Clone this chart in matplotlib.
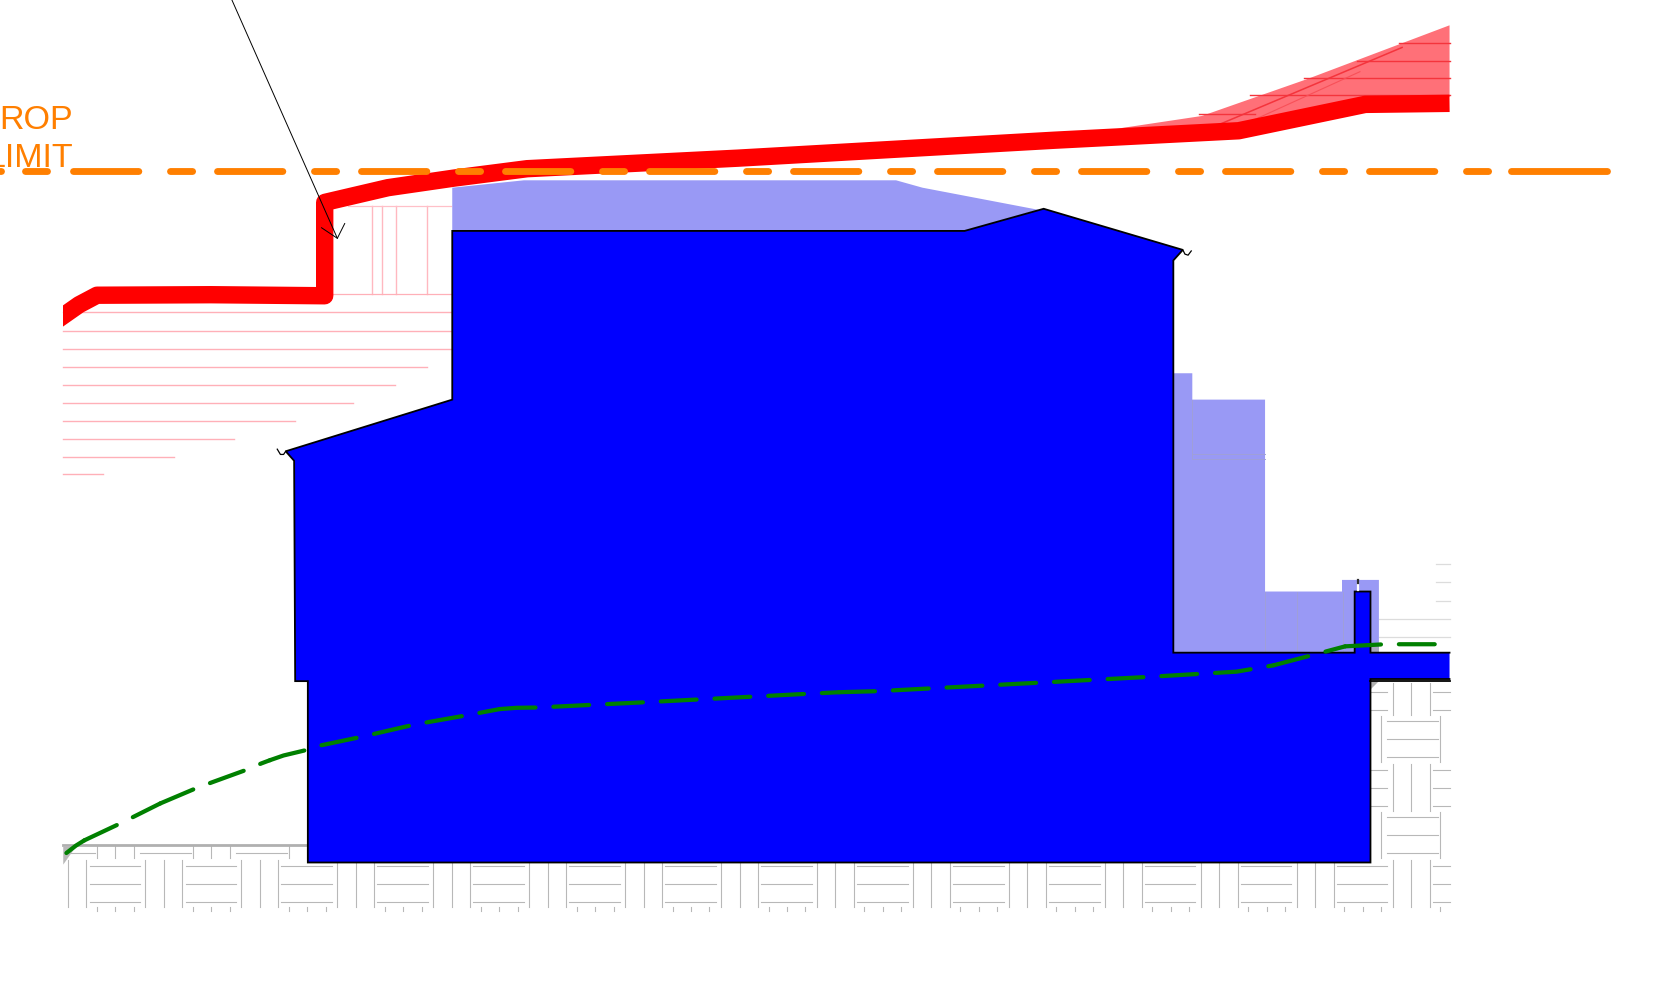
import matplotlib
matplotlib.use('Agg')
import matplotlib.pyplot as plt
from matplotlib.patches import Rectangle

plt.rcParams['font.family'] = ['Liberation Sans', 'DejaVu Sans']

# all outlines, x left to right and y top to bottom
blue_x = [429, 915, 990, 1122, 1113, 1113, 1285, 1285, 1300, 1300, 1375, 1375, 1300, 1300, 292, 292, 280, 279, 271, 429]
blue_y = [219, 219, 198, 237, 247, 619, 619, 561, 561, 619, 619, 644, 644, 818, 818, 646, 646, 437, 428, 379]

roof_x = [429, 497, 850, 875, 985, 915, 429]
roof_y = [178, 171, 171, 178, 199, 219, 219]

rear_x = [1113, 1131, 1131, 1200, 1200, 1273, 1273, 1308, 1308, 1300, 1113]
rear_y = [354, 354, 379, 379, 561, 561, 550, 550, 610, 619, 619]

red_x = [45, 75, 92, 200, 308, 308, 368, 430, 500, 700, 1000, 1175, 1295, 1375]
red_y = [310, 289, 280, 279.5, 280.5, 192, 178, 169, 160, 150, 133, 124, 99, 98]

fan_x = [1060, 1140, 1240, 1375, 1375, 1295, 1175]
fan_y = [122, 110, 75, 24, 92, 95, 120]

green_x = [63, 72, 80, 114, 128, 152, 185, 201, 234, 248, 256, 269, 292, 304, 342, 394, 445, 458, 474, 490, 510, 612,
           766, 796, 833, 1089, 1173, 1208, 1246, 1276, 1314, 1365]
green_y = [809, 802, 797, 781, 774, 762, 748, 742, 730, 724, 721, 716.5, 711, 707, 699, 687, 678, 675.5, 672.5, 671.3,
           671, 666, 658, 656.5, 655.5, 642, 637, 631, 621, 613, 611, 611]
green_restart = [63, 80, 152, 256, 474, 796, 1208, 1276]

pink_y = [296, 314, 331, 348, 365, 382, 399, 416, 433, 450]
pink_end = [428, 428, 428, 405, 375, 335, 280, 222, 165, 98]
pink_vert = [353, 362, 376, 405]

fan_lines_y = [41, 58, 74, 90, 108]
fan_lines_start = [1327, 1287, 1237, 1186, 1137]
fan_lines_end = [1375, 1375, 1375, 1375, 1190]

arrow_x = [305, 320, 327]
arrow_y = [216, 226, 212]

limit_y = 162

fig = plt.figure(figsize=(16.53, 10.08), dpi=100)
ax = fig.add_axes([0, 0, 1, 1])
ax.set_xlim(0, 1568)
ax.set_ylim(956, 0)
ax.axis('off')

px = 0.759  # one unit of the axes in points

# brick hatch under the ground
gray = '#b8b8b8'


def hatch_v(x, y0, y1):
    if x < 62 or x > 1375:
        return
    ymin = 802 if x < 1300 else 648
    if y1 <= ymin:
        return
    ax.plot([x, x], [max(y0, ymin), y1], color=gray, lw=0.8, zorder=1)


def hatch_h(x0, x1, y):
    x0, x1 = max(x0, 62), min(x1, 1375)
    if x1 <= x0:
        return
    if y < (802 if x1 < 1300 else 648):
        return
    ax.plot([x0, x1], [y, y], color=gray, lw=0.8, zorder=1)


for k in range(-1, 16):
    for top, first, hstart in [(816, 47, 85), (725, 47, 85), (634, 47, 85), (770, 92, 133), (679, 92, 133)]:
        for d in [0, 17.5, 35]:
            hatch_v(first + 91 * k + d, top, top + 44)
        for d in [5, 22, 39]:
            hatch_h(hstart + 91 * k, hstart + 91 * k + 48, top + d)
    for d in [0, 17.5, 35]:
        hatch_v(92 + 91 * k + d, 860, 864)

ax.plot([60, 292], [801, 801], color='#b0b0b0', lw=2, zorder=1)
ax.fill([60, 72, 60], [803, 803, 820], color='#b8b8b8', lw=0, zorder=1)
ax.fill([1300, 1308, 1300], [646, 646, 654], color='#b0b0b0', lw=0, zorder=1)

for y in [535, 552, 570, 587, 604]:
    ax.plot([1362 if y < 580 else 1308, 1375], [y, y], color='#dcdcdc', lw=0.9, zorder=1)

# pink lines under the red one
for y, end in zip(pink_y, pink_end):
    ax.plot([60, end], [y, y], color='#ffb0b8', lw=1, zorder=1)
for x in pink_vert:
    ax.plot([x, x], [195, 279], color='#ffb8c0', lw=1, zorder=1)
ax.plot([330, 428], [195, 195], color='#ffc0c8', lw=0.9, zorder=1)
ax.plot([315, 428], [279, 279], color='#ffb0b8', lw=0.9, zorder=1)

# building
ax.fill(roof_x, roof_y, color='#9999f5', lw=0, zorder=2)
ax.fill(rear_x, rear_y, color='#9999f5', lw=0, zorder=2)
ax.fill([1300, 1308, 1308, 1300], [610, 610, 619, 619], color='#a8a8c0', lw=0, zorder=2)
for x in [1200, 1230, 1274]:
    ax.plot([x, x], [561, 619], color='#a0a0d8', lw=0.7, zorder=2)
ax.plot([1131, 1131], [379, 435], color='#a0a0d8', lw=0.7, zorder=2)
ax.plot([1131, 1200], [431, 431], color='#a0a0d8', lw=0.7, zorder=2)
ax.plot([1131, 1200], [435, 435], color='#a0a0d8', lw=0.7, zorder=2)
ax.fill(blue_x, blue_y, color='#0000ff', lw=0, zorder=3)
# outline stays open on the right where the band runs out
ax.plot(blue_x[11:] + blue_x[:11], blue_y[11:] + blue_y[:11], color='black', lw=1.3, zorder=3,
        solid_joinstyle='miter')
ax.plot([1300, 1375], [646, 646], color='black', lw=1.3, zorder=3)

# notch on top of the post
ax.plot([1288, 1288], [553, 560], color='white', lw=1.6, zorder=3)
ax.plot([1288, 1288], [550, 553], color='#303030', lw=1.6, zorder=3)

# little hooks at both eaves
ax.plot([1122, 1124, 1127, 1130], [237, 241, 242, 238], color='black', lw=0.9, zorder=3)
ax.plot([271, 269, 266, 263], [428, 431, 431, 426], color='black', lw=0.9, zorder=3)

# red limit
ax.fill(fan_x, fan_y, color='#ff7078', lw=0, zorder=4)
for y, start, end in zip(fan_lines_y, fan_lines_start, fan_lines_end):
    ax.plot([start, end], [y, y], color='#f4343c', lw=1, zorder=4)
ax.plot([1140, 1330], [125, 45], color='#f4343c', lw=1.1, zorder=4)
ax.plot([1180, 1290], [118, 68], color='#f85058', lw=0.8, zorder=4)
red_line, = ax.plot(red_x, red_y, color='#ff0000', lw=16.5 * px, solid_capstyle='butt', solid_joinstyle='round',
                    zorder=5)
red_line.set_clip_path(Rectangle((60, 0), 1315, 956, transform=ax.transData))

# orange limit line
lw_orange = 6.5
ax.plot([69.5, 1426], [limit_y, limit_y], color='#ff7f00', lw=lw_orange * px,
        linestyle=(0, (62 / lw_orange, 30 / lw_orange, 21 / lw_orange, 23.6 / lw_orange)),
        dash_capstyle='round', zorder=6)
ax.plot([1433, 1524], [limit_y, limit_y], color='#ff7f00', lw=lw_orange * px, solid_capstyle='round', zorder=6)
# the two bits left of the dashed part
ax.plot([23.5, 44.5], [limit_y, limit_y], color='#ff7f00', lw=lw_orange * px, solid_capstyle='round', zorder=6)
ax.plot([0, 1], [limit_y, limit_y], color='#ff7f00', lw=lw_orange * px, solid_capstyle='round', zorder=6)
ax.text(69, 122, 'ROP', color='#ff7f00', fontsize=24.5, ha='right', va='baseline', zorder=6)
ax.text(69, 158, 'LIMIT', color='#ff7f00', fontsize=24.5, ha='right', va='baseline', zorder=6)

# green dashed line, the dash pattern starts over at each of these points
lw_green = 4
for i, start in enumerate(green_restart):
    a = green_x.index(start)
    b = green_x.index(green_restart[i + 1]) + 1 if i + 1 < len(green_restart) else len(green_x)
    ax.plot(green_x[a:b], green_y[a:b], color='#008000', lw=lw_green * px,
            linestyle=(0, (34 / lw_green, 17 / lw_green)), dash_capstyle='round', zorder=6)

# leader
ax.plot([220, 320], [0, 226], color='black', lw=0.7, zorder=7)
ax.plot(arrow_x, arrow_y, color='black', lw=0.7, zorder=7)

fig.savefig('out.png', dpi=100, facecolor='white')
